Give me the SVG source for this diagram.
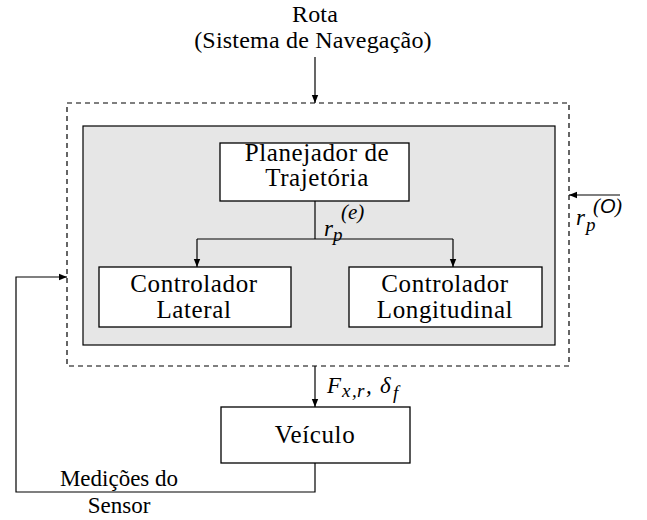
<svg xmlns="http://www.w3.org/2000/svg" width="647" height="520" viewBox="0 0 647 520">
<style>
text{font-family:"Liberation Serif","DejaVu Serif",serif;fill:#000}
.t{font-size:24px;letter-spacing:0.2px}
.b{font-size:25px;letter-spacing:0.6px}
.s{font-size:23px}
.m{font-style:italic;font-size:23px}
.ms{font-style:italic;font-size:19px}
.box{fill:#fff;stroke:#000;stroke-width:1.3}
.ln{fill:none;stroke:#000;stroke-width:1.2}
</style>
<defs>
<marker id="ah" viewBox="0 0 10 10" refX="10" refY="5" markerWidth="8" markerHeight="8" markerUnits="userSpaceOnUse" orient="auto"><path d="M0,1 L10,5 L0,9 z" fill="#000"/></marker>
</defs>
<g id="sistema">
<rect x="67" y="103" width="502" height="263" fill="#fff" stroke="#000" stroke-width="1.2" stroke-dasharray="5,4"/>
<rect x="83" y="126" width="472" height="219" fill="#e6e6e6" stroke="#000" stroke-width="1.2"/>
</g>
<g id="rota">
<text class="t" x="315" y="22" text-anchor="middle">Rota</text>
<text class="t" x="313" y="48" text-anchor="middle">(Sistema de Navegação)</text>
</g>
<g id="planejador">
<rect class="box" x="220" y="143" width="189" height="58"/>
<text class="b" x="317" y="161" text-anchor="middle">Planejador de</text>
<text class="b" x="317" y="186" text-anchor="middle">Trajetória</text>
</g>
<g id="lateral">
<rect class="box" x="99" y="267" width="192" height="60"/>
<text class="b" x="194" y="292" text-anchor="middle">Controlador</text>
<text class="b" x="194" y="318" text-anchor="middle">Lateral</text>
</g>
<g id="longitudinal">
<rect class="box" x="349" y="267" width="193" height="60"/>
<text class="b" x="445" y="292" text-anchor="middle">Controlador</text>
<text class="b" x="445" y="318" text-anchor="middle">Longitudinal</text>
</g>
<g id="veiculo">
<rect class="box" x="221" y="407" width="189" height="56"/>
<text class="b" x="315" y="443" text-anchor="middle">Veículo</text>
</g>
<g id="connectors">
<line class="ln" x1="315" y1="57" x2="315" y2="103" marker-end="url(#ah)"/>
<path class="ln" d="M315,201 V239"/>
<path class="ln" d="M197,239 H453"/>
<line class="ln" x1="197" y1="239" x2="197" y2="267" marker-end="url(#ah)"/>
<line class="ln" x1="453" y1="239" x2="453" y2="267" marker-end="url(#ah)"/>
<line class="ln" x1="315" y1="366" x2="315" y2="407" marker-end="url(#ah)"/>
<line class="ln" x1="620" y1="195" x2="569" y2="195" marker-end="url(#ah)"/>
<path class="ln" d="M315,463 V492 H16 V277 H67" marker-end="url(#ah)"/>
</g>
<g id="labels">
<text class="m"><tspan x="324" y="236">r</tspan><tspan class="ms" x="333" y="241">p</tspan><tspan x="341" y="219" font-size="21">(e)</tspan></text>
<text class="m"><tspan x="576" y="225">r</tspan><tspan class="ms" x="586" y="231">p</tspan><tspan font-size="21" x="593" y="213">(</tspan><tspan font-size="20" x="600" y="213" font-family="Liberation Sans,DejaVu Sans,sans-serif">O</tspan><tspan font-size="21" x="615" y="213">)</tspan></text>
<text class="m"><tspan x="327" y="393">F</tspan><tspan class="ms" x="342" y="397">x</tspan><tspan class="ms" x="352" y="397">,</tspan><tspan class="ms" x="357" y="397">r</tspan><tspan x="366" y="393">,</tspan><tspan x="380" y="393">δ</tspan><tspan class="ms" x="393" y="399">f</tspan></text>
<text class="s" x="119" y="486" text-anchor="middle">Medições do</text>
<text class="s" x="119" y="513" text-anchor="middle">Sensor</text>
</g>
</svg>
